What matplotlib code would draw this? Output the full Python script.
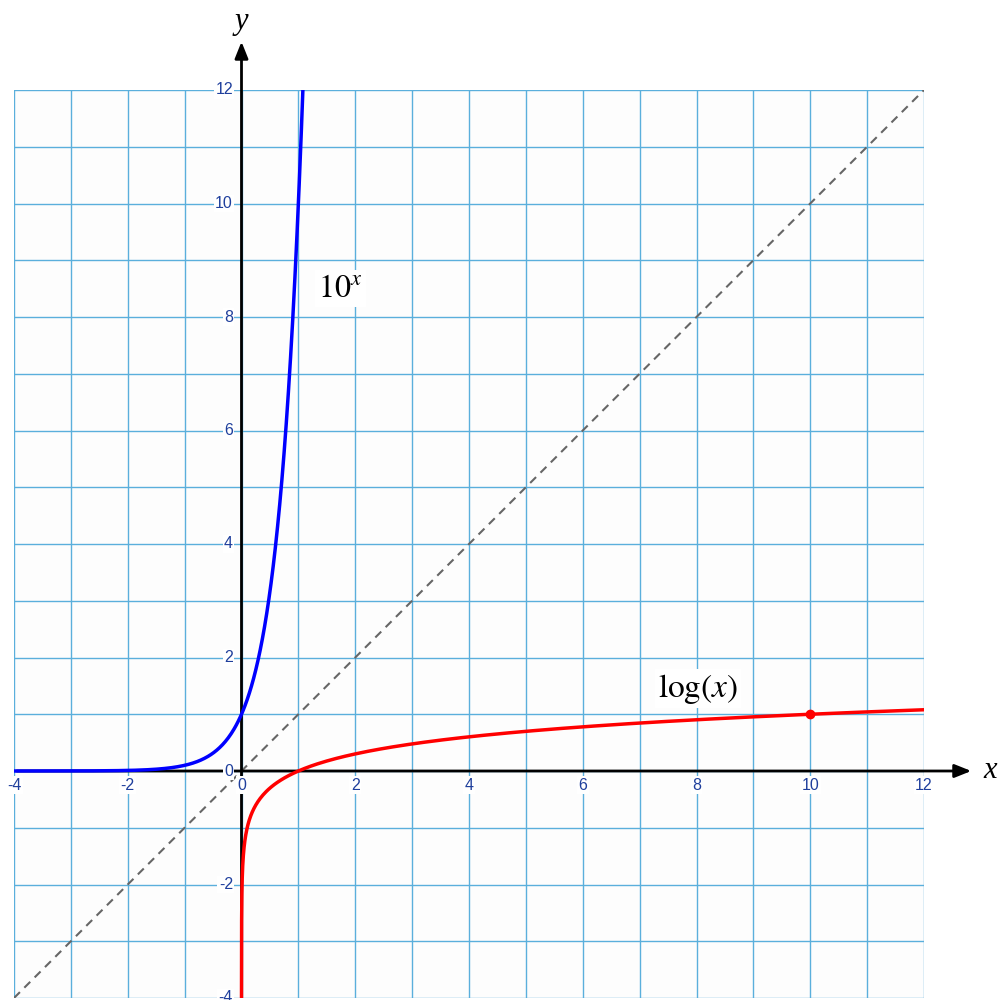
import matplotlib.pyplot as plt
import numpy as np

# axis range and labelled ticks
x_min, x_max = -4, 12
y_min, y_max = -4, 12
x_ticks = [-4, -2, 0, 2, 4, 6, 8, 10, 12]
y_ticks = [-4, -2, 0, 2, 4, 6, 8, 10, 12]

# the two curves: y = 10^x and its inverse y = log(x)
exp_x = np.linspace(-4, np.log10(12), 400)
exp_y = 10 ** exp_x
log_x = np.concatenate([np.logspace(-4, 0, 200), np.linspace(1, 12, 200)])
log_y = np.log10(log_x)
marked_point = (10, 1)

tick_color = "#1f3f9c"
grid_color = "#5aafdc"

fig = plt.figure(figsize=(9.99, 10), dpi=100)
fig.patch.set_facecolor("white")
ax = fig.add_axes([14 / 999, 2 / 1000, 910 / 999, 908 / 1000])
ax.set_facecolor("#fdfdfd")
ax.set_xlim(x_min, x_max)
ax.set_ylim(y_min, y_max)

# grid every unit
for gx in range(x_min, x_max + 1):
    ax.axvline(gx, color=grid_color, linewidth=1, zorder=1)
for gy in range(y_min, y_max + 1):
    ax.axhline(gy, color=grid_color, linewidth=1, zorder=1)

for s in ax.spines.values():
    s.set_visible(False)
ax.set_xticks([])
ax.set_yticks([])

# axes with arrows
ax.annotate("", xy=(12.88, 0), xytext=(x_min, 0),
            arrowprops=dict(arrowstyle="-|>,head_length=1.0,head_width=0.4",
                            color="black", lw=2),
            annotation_clip=False, zorder=3)
ax.annotate("", xy=(0, 12.9), xytext=(0, y_min),
            arrowprops=dict(arrowstyle="-|>,head_length=1.0,head_width=0.4",
                            color="black", lw=2),
            annotation_clip=False, zorder=3)
ax.text(13.05, 0, "x", fontsize=22, family="Liberation Serif", style="italic",
        ha="left", va="center", clip_on=False)
ax.text(0, 13.2, "y", fontsize=22, family="Liberation Serif", style="italic",
        ha="center", va="center", clip_on=False)

# tick labels
box = dict(facecolor="white", edgecolor="none", pad=1)
for t in x_ticks:
    ax.text(t, -0.12, str(t), fontsize=11.5, family="Liberation Sans",
            color=tick_color, ha="center", va="top", bbox=box, zorder=4,
            clip_on=False)
for t in y_ticks:
    ax.text(-0.15, t, str(t), fontsize=11.5, family="Liberation Sans",
            color=tick_color, ha="right", va="center", bbox=box, zorder=4,
            clip_on=False)

# y = x reference line
ax.plot([x_min, x_max], [y_min, y_max], "--", color="#666666",
        linewidth=1.5, dashes=(4, 3), zorder=2)

ax.plot(exp_x, exp_y, color="#0000ff", linewidth=2.5, zorder=5)
ax.plot(log_x, log_y, color="#ff0000", linewidth=2.5, zorder=5)
ax.plot(*marked_point, "o", color="#ff0000", markersize=6, zorder=6)

ax.text(1.35, 8.5, r"$10^{x}$", fontsize=23, ha="left", va="center",
        math_fontfamily="stix", zorder=6,
        bbox=dict(facecolor="white", edgecolor="none", pad=2))
ax.text(8.03, 1.45, r"$\mathrm{log}(x)$", fontsize=24, ha="center", va="center",
        math_fontfamily="stix", zorder=6,
        bbox=dict(facecolor="white", edgecolor="none", pad=2))

plt.savefig("out.png", dpi=100)
plt.close()
